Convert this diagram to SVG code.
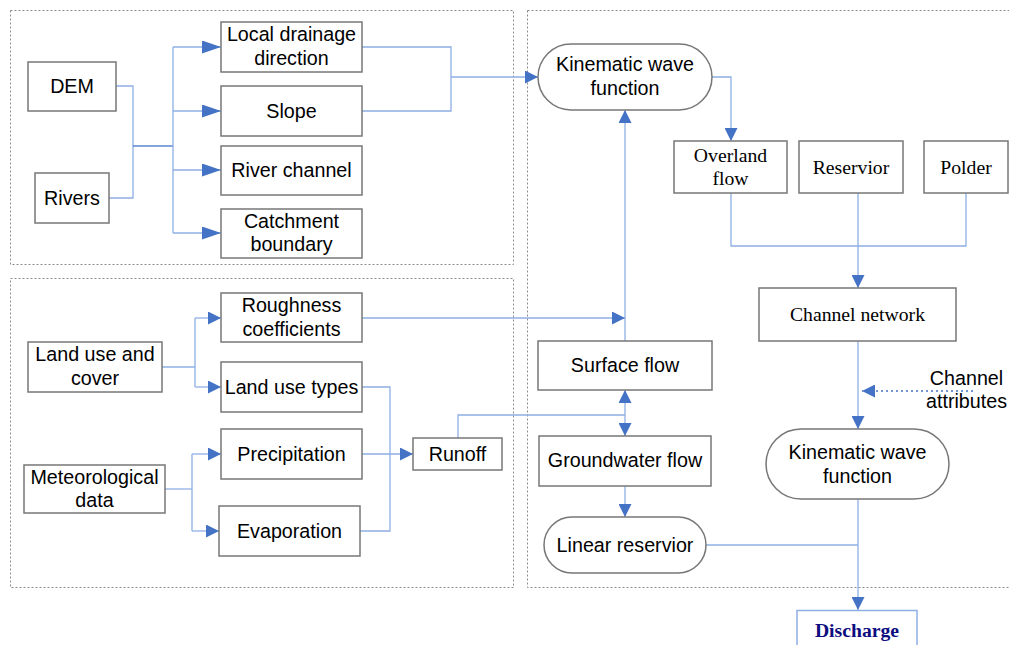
<svg xmlns="http://www.w3.org/2000/svg" width="1009" height="645" viewBox="0 0 1009 645">
<style>
.panel{fill:none;stroke:#8a8a8a;stroke-width:1;stroke-dasharray:2,2}
.box{fill:#fff;stroke:#777;stroke-width:1.5}
.t{font-family:"Liberation Sans",Arial,sans-serif;font-size:19.7px;fill:#000;text-anchor:middle}
.s{font-family:"Liberation Serif","Times New Roman",serif;font-size:19.7px;fill:#000;text-anchor:middle}
.c{fill:none;stroke:#8eafe4;stroke-width:1.3}
.cd{fill:none;stroke:#5b86cf;stroke-width:1.5}
.dot{fill:none;stroke:#4472c4;stroke-width:1.5;stroke-dasharray:2,3}
</style>
<defs>
<marker id="a" viewBox="0 0 13 13" refX="13" refY="6.5" markerWidth="13" markerHeight="13" orient="auto" markerUnits="userSpaceOnUse"><path d="M0,0 L13,6.5 L0,13 z" fill="#4472c4"/></marker>
<marker id="al" viewBox="0 0 19 13" refX="19" refY="6.5" markerWidth="19" markerHeight="13" orient="auto" markerUnits="userSpaceOnUse"><path d="M0,0 L19,6.5 L0,13 z" fill="#4472c4"/></marker>
</defs>
<rect width="1009" height="645" fill="#fff"/>
<g id="panels">
<rect class="panel" x="10.5" y="10.5" width="503" height="254"/>
<rect class="panel" x="10.5" y="278.5" width="503" height="309"/>
<rect class="panel" x="527.5" y="10.5" width="520" height="577"/>
</g>
<g id="connectors">
<path class="c" d="M116,86 H133 V146"/>
<path class="c" d="M109,198 H133 V146"/>
<path class="cd" d="M133,146 H173"/>
<path class="c" d="M173,47 V233"/>
<path class="c" d="M173,47 H221" marker-end="url(#al)"/>
<path class="c" d="M173,111 H221" marker-end="url(#al)"/>
<path class="c" d="M173,170 H221" marker-end="url(#al)"/>
<path class="c" d="M173,233 H221" marker-end="url(#al)"/>
<path class="c" d="M362,47 H451 V111 H362"/>
<path class="c" d="M451,77 H538" marker-end="url(#a)"/>
<path class="c" d="M712,77 H731 V141" marker-end="url(#a)"/>
<path class="c" d="M731,193 V246 H966 V193"/>
<path class="c" d="M858,193 V288" marker-end="url(#a)"/>
<path class="c" d="M858,341 V429" marker-end="url(#a)"/>
<path class="dot" d="M973,391 H862" marker-end="url(#a)"/>
<path class="c" d="M858,499 V610" marker-end="url(#a)"/>
<path class="c" d="M706,545 H858"/>
<path class="c" d="M625,341 V110" marker-end="url(#a)"/>
<path class="c" d="M362,318 H625" marker-end="url(#a)"/>
<path class="c" d="M162,367 H195"/>
<path class="c" d="M195,318 V387"/>
<path class="c" d="M195,318 H221" marker-end="url(#a)"/>
<path class="c" d="M195,387 H221" marker-end="url(#a)"/>
<path class="c" d="M165,489 H192"/>
<path class="c" d="M192,454 V531"/>
<path class="c" d="M192,454 H221" marker-end="url(#a)"/>
<path class="c" d="M192,531 H219" marker-end="url(#a)"/>
<path class="c" d="M362,387 H390 V531 H360"/>
<path class="c" d="M362,454 H413" marker-end="url(#a)"/>
<path class="c" d="M458,438 V415 H625"/>
<path class="c" d="M625,415 V390" marker-end="url(#a)"/>
<path class="c" d="M625,415 V436" marker-end="url(#a)"/>
<path class="c" d="M625,486 V517" marker-end="url(#a)"/>
</g>
<g id="dem"><rect class="box" x="28" y="62" width="88" height="49"/><text class="t" x="72" y="93">DEM</text></g>
<g id="rivers"><rect class="box" x="35" y="173" width="74" height="50"/><text class="t" x="72" y="204.5">Rivers</text></g>
<g id="ldd"><rect class="box" x="221" y="22" width="141" height="50"/><text class="t" x="291.5" y="41">Local drainage</text><text class="t" x="291.5" y="65">direction</text></g>
<g id="slope"><rect class="box" x="221" y="86" width="141" height="50"/><text class="t" x="291.5" y="117.5">Slope</text></g>
<g id="riverchannel"><rect class="box" x="221" y="146" width="141" height="49"/><text class="t" x="291.5" y="177">River channel</text></g>
<g id="catchment"><rect class="box" x="221" y="209" width="141" height="49"/><text class="t" x="291.5" y="227.5">Catchment</text><text class="t" x="291.5" y="251">boundary</text></g>
<g id="roughness"><rect class="box" x="221" y="293" width="141" height="49"/><text class="t" x="291.5" y="311.5">Roughness</text><text class="t" x="291.5" y="335.5">coefficients</text></g>
<g id="landuse"><rect class="box" x="28" y="342" width="134" height="50"/><text class="t" x="95" y="361">Land use and</text><text class="t" x="95" y="385">cover</text></g>
<g id="landusetypes"><rect class="box" x="221" y="362" width="141" height="50"/><text class="t" x="291.5" y="394">Land use types</text></g>
<g id="precip"><rect class="box" x="221" y="429" width="141" height="50"/><text class="t" x="291.5" y="461">Precipitation</text></g>
<g id="evap"><rect class="box" x="219" y="506" width="141" height="50"/><text class="t" x="289.5" y="538">Evaporation</text></g>
<g id="meteo"><rect class="box" x="24" y="465" width="141" height="48"/><text class="t" x="94.5" y="483.5">Meteorological</text><text class="t" x="94.5" y="506.5">data</text></g>
<g id="runoff"><rect class="box" x="413" y="438" width="89" height="32"/><text class="t" x="457.5" y="461">Runoff</text></g>
<g id="kinematic1"><rect class="box" x="538" y="44" width="174" height="66" rx="33" ry="33"/><text class="t" x="625" y="71">Kinematic wave</text><text class="t" x="625" y="95">function</text></g>
<g id="overland"><rect class="box" x="674" y="141" width="113" height="52"/><text class="s" x="730.5" y="162">Overland</text><text class="s" x="730.5" y="184.5">flow</text></g>
<g id="reservior"><rect class="box" x="799" y="141" width="104" height="52"/><text class="s" x="851" y="173.5">Reservior</text></g>
<g id="polder"><rect class="box" x="924" y="141" width="84" height="52"/><text class="s" x="966" y="173.5">Polder</text></g>
<g id="channelnetwork"><rect class="box" x="759" y="288" width="197" height="53"/><text class="s" x="857.5" y="321">Channel network</text></g>
<g id="surfaceflow"><rect class="box" x="538" y="341" width="174" height="49"/><text class="t" x="625" y="371.5">Surface flow</text></g>
<g id="groundwater"><rect class="box" x="539" y="436" width="172" height="50"/><text class="t" x="625" y="467">Groundwater flow</text></g>
<g id="linearreservior"><rect class="box" x="544" y="517" width="162" height="56" rx="28" ry="28"/><text class="t" x="625" y="552">Linear reservior</text></g>
<g id="kinematic2"><rect class="box" x="766" y="429" width="183" height="70" rx="35" ry="35"/><text class="t" x="857.5" y="458.5">Kinematic wave</text><text class="t" x="857.5" y="482.5">function</text></g>
<g id="channelattributes"><text class="t" x="966.5" y="384.5">Channel</text><text class="t" x="966.5" y="407.5">attributes</text></g>
<g id="discharge"><rect x="797" y="610.5" width="120" height="50" fill="#fff" stroke="#8eafe4" stroke-width="1.5"/><text class="s" x="857" y="637" style="font-weight:bold;fill:#0d0d80">Discharge</text></g>
</svg>
